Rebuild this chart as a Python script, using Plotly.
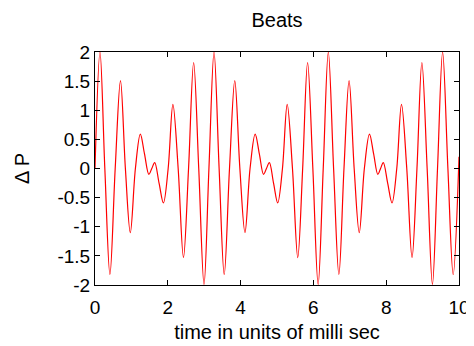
import plotly.graph_objects as go

# Extrema of the curve (time in ms, delta P)
extrema_t = [0.137, 0.41, 0.70, 0.97, 1.245, 1.48, 1.64, 1.88, 2.14, 2.43, 2.71, 2.995,
             3.27, 3.55, 3.84, 4.12, 4.40, 4.63, 4.79, 5.02, 5.28, 5.57, 5.84, 6.13,
             6.41, 6.70, 6.98, 7.26, 7.54, 7.77, 7.92, 8.16, 8.42, 8.71, 8.98, 9.27,
             9.55, 9.84]
extrema_v = [2.0, -1.82, 1.51, -1.10, 0.59, -0.10, 0.10, -0.59, 1.10, -1.53, 1.82, -1.99,
             2.0, -1.82, 1.51, -1.10, 0.59, -0.10, 0.10, -0.59, 1.10, -1.53, 1.82, -1.99,
             2.0, -1.82, 1.51, -1.10, 0.59, -0.10, 0.10, -0.59, 1.10, -1.53, 1.82, -1.99,
             2.0, -1.82]
# Points between extrema (mostly zero crossings), plus ends
mid_t = [0.0, 0.27, 0.555, 0.835, 1.11, 1.36, 1.56, 1.76, 2.01, 2.285, 2.57, 2.85, 3.13,
         3.41, 3.695, 3.98, 4.26, 4.515, 4.71, 4.905, 5.15, 5.425, 5.705, 5.985, 6.27,
         6.555, 6.84, 7.12, 7.40, 7.655, 7.845, 8.04, 8.29, 8.565, 8.845, 9.125, 9.41,
         9.695, 10.0]
mid_v = [0.0, 0, 0, 0, 0, 0.25, 0, -0.25, 0, 0, 0, 0, 0,
         0, 0, 0, 0, 0.25, 0, -0.25, 0, 0, 0, 0, 0,
         0, 0, 0, 0, 0.25, 0, -0.25, 0, 0, 0, 0, 0,
         0, 0.2]

x_ticks = [0, 2, 4, 6, 8, 10]
y_ticks = [-2, -1.5, -1, -0.5, 0, 0.5, 1, 1.5, 2]
y_ticklabels = ["-2", "-1.5", "-1", "-0.5", "0", "0.5", "1", "1.5", "2"]

pts = sorted(zip(extrema_t + mid_t, extrema_v + mid_v))
t = [p[0] for p in pts]
v = [p[1] for p in pts]

fig = go.Figure()
fig.add_trace(go.Scatter(x=t, y=v, mode="lines",
                         line=dict(color="#ff0000", width=1.2, shape="spline", smoothing=1.0),
                         showlegend=False, hoverinfo="skip"))

W, H = 466, 338  # page body has an 8px margin
font = dict(family="Liberation Sans, Arial, sans-serif", size=19, color="black")
fig.update_layout(
    width=W, height=H,
    margin=dict(l=87, r=15, t=44, b=61),
    paper_bgcolor="white", plot_bgcolor="white",
    font=font,
    title=dict(text="Beats", x=269 / W, xanchor="center",
               y=1 - 12 / H, yanchor="middle", font=dict(size=20)),
    xaxis=dict(range=[0, 10], tickvals=x_ticks, ticks="inside", ticklen=5,
               tickcolor="black", showline=True, linecolor="black", linewidth=1,
               mirror="ticks", showgrid=False, zeroline=False, automargin=False,
               ticklabelstandoff=5,
               title=dict(text="time in units of milli sec", standoff=8,
                          font=dict(size=20)),
               tickfont=dict(size=19)),
    yaxis=dict(range=[-2, 2], tickvals=y_ticks, ticktext=y_ticklabels, ticks="inside",
               ticklen=5, tickcolor="black", showline=True, linecolor="black",
               linewidth=1, mirror="ticks", showgrid=False, zeroline=False,
               automargin=False,
               title=dict(text="Δ P", standoff=22, font=dict(size=20)),
               tickfont=dict(size=19)),
)
fig.write_html("out.html")
